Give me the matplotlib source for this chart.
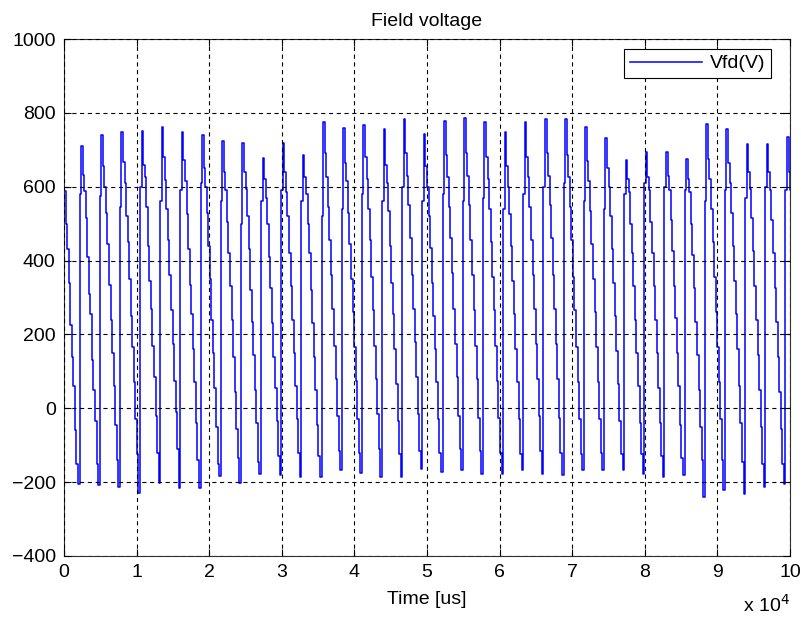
import numpy as np
import matplotlib.pyplot as plt

plt.rcParams['font.family'] = ['Liberation Sans', 'DejaVu Sans']
plt.rcParams['lines.scale_dashes'] = False

# sample clock of the recorded field voltage
dt_us = 213.7

# samples before the first trough (t = 0 starts mid-descent)
lead_in = [588, 500, 430, 340, 225, 140, 60, -60, -150]

# per firing cycle: trough, first rise level, peak, then descending staircase
troughs = [-204, -209, -213, -229, -201, -215, -215, -184, -201, -177, -181, -186,
           -186, -166, -175, -186, -186, -164, -173, -166, -177, -177, -166,
           -177, -181, -168, -168, -168, -177, -186, -181, -240, -220, -231, -213, -204]
rises = [580, 575, 545, 600, 560, 590, 610, 560, 500, 560, 590, 560,
         520, 540, 580, 560, 600, 560, 580, 560, 570, 540, 580,
         600, 610, 560, 540, 580, 610, 600, 590, 560, 590, 570, 600, 590]
peaks = [710, 740, 749, 751, 763, 749, 740, 724, 719, 679, 719, 686,
         776, 758, 767, 755, 783, 742, 779, 787, 776, 747, 776,
         783, 783, 762, 731, 672, 693, 693, 675, 771, 755, 715, 715, 734]
descents = [
    [632, 588, 515, 410, 310, 255, 130, 50, -35, -150],
    [655, 600, 530, 445, 335, 240, 150, 60, -45, -140],
    [668, 610, 520, 450, 350, 250, 165, 70, -30, -125],
    [660, 625, 545, 440, 345, 270, 170, 85, -20, -120],
    [680, 618, 540, 455, 360, 265, 175, 75, -10, -110],
    [672, 615, 525, 430, 335, 255, 160, 70, -40, -140],
    [650, 600, 530, 440, 350, 240, 150, 55, -50, -150],
    [640, 590, 505, 420, 330, 240, 140, 45, -55, -135],
    [640, 595, 520, 430, 320, 235, 145, 50, -40, -145],
    [620, 570, 500, 410, 325, 230, 140, 55, -35, -130],
    [640, 585, 520, 420, 330, 240, 150, 60, -30, -120],
    [625, 580, 500, 420, 320, 230, 140, 50, -45, -130],
    [690, 625, 545, 455, 360, 270, 170, 80, -20, -115],
    [665, 615, 530, 445, 350, 260, 165, 75, -30, -120],
    [680, 620, 540, 455, 355, 265, 170, 80, -15, -110],
    [660, 610, 535, 440, 340, 255, 160, 65, -35, -125],
    [690, 630, 550, 460, 360, 270, 180, 85, -15, -115],
    [655, 600, 520, 435, 340, 250, 160, 70, -30, -120],
    [685, 625, 545, 460, 365, 270, 175, 85, -20, -110],
    [690, 630, 550, 455, 360, 265, 170, 80, -25, -115],
    [680, 620, 540, 450, 355, 265, 170, 75, -25, -120],
    [655, 600, 525, 440, 345, 255, 160, 70, -30, -125],
    [680, 625, 545, 455, 360, 270, 175, 80, -20, -115],
    [690, 630, 550, 460, 360, 270, 175, 80, -25, -120],
    [685, 625, 545, 455, 355, 265, 165, 70, -30, -125],
    [670, 615, 535, 445, 350, 260, 165, 70, -30, -120],
    [650, 600, 520, 430, 340, 250, 155, 65, -35, -125],
    [620, 585, 500, 420, 330, 240, 150, 60, -40, -125],
    [625, 590, 505, 420, 330, 240, 150, 55, -40, -130],
    [630, 590, 510, 425, 330, 245, 150, 60, -45, -135],
    [620, 585, 500, 415, 325, 235, 145, 50, -50, -140],
    [675, 620, 540, 450, 355, 260, 165, 70, -30, -140],
    [665, 610, 530, 440, 345, 255, 160, 60, -40, -145],
    [640, 595, 515, 425, 330, 240, 145, 50, -50, -150],
    [640, 590, 510, 420, 325, 235, 140, 45, -55, -150],
    [640, 590, 495],
]

vfd = list(lead_in)
for k in range(len(peaks)):
    vfd += [troughs[k], rises[k], peaks[k]] + descents[k]
vfd = np.array(vfd, dtype=float)
t = np.arange(len(vfd)) * dt_us

fig = plt.figure(figsize=(8.01, 6.20), dpi=100)
ax = fig.add_axes([64 / 801, 1 - 556 / 620, 726 / 801, 517 / 620])

ax.plot(t, vfd, color='#0000ff', lw=1.1, drawstyle='steps-post', label='Vfd(V)')

ax.set_xlim(0, 100000)
ax.set_ylim(-400, 1000)
ax.set_xticks(np.arange(0, 100001, 10000))
ax.set_xticklabels([str(i) for i in range(11)])
ax.set_yticks(np.arange(-400, 1001, 200))

ax.set_axisbelow(False)
ax.grid(True, color='black', lw=0.8, linestyle=(0, (3.0, 2.6)))
ax.tick_params(direction='in', length=5, width=0.8, labelsize=14, pad=6,
               top=True, right=True, colors='black')
for s in ax.spines.values():
    s.set_linewidth(0.8)
    s.set_color('#303030')

ax.set_title('Field voltage', fontsize=14, pad=9)
ax.set_xlabel('Time [us]', fontsize=14, labelpad=7)
ax.text(1.0, -0.095, r'x 10$^{4}$', transform=ax.transAxes, ha='right', va='center',
        fontsize=14)

leg = ax.legend(loc='upper right', bbox_to_anchor=(707 / 726, 1 - 10 / 517),
                borderaxespad=0, fontsize=14, fancybox=False, framealpha=1,
                edgecolor='black', handlelength=3.7, handletextpad=0.4,
                borderpad=0.3)
leg.get_frame().set_linewidth(0.8)

fig.savefig('out.png', dpi=100)
